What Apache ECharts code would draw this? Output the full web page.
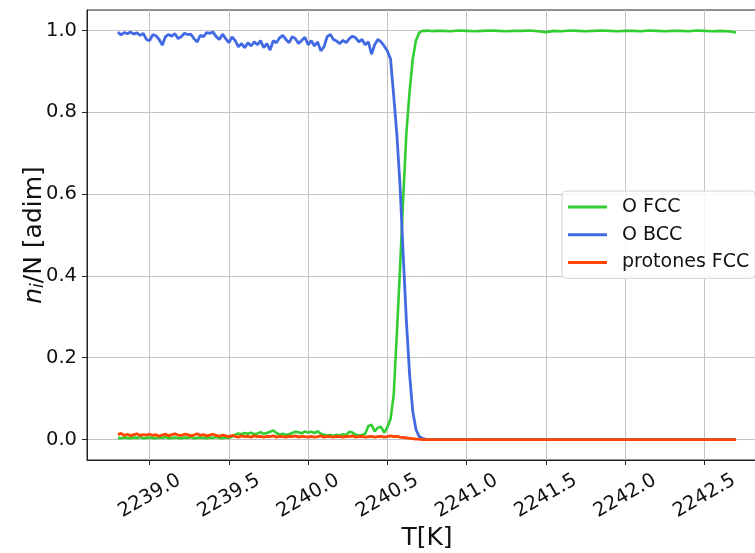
<!DOCTYPE html>
<html><head><meta charset="utf-8">
<script src="https://cdn.jsdelivr.net/npm/echarts@6/dist/echarts.min.js"></script>
<style>html,body{margin:0;padding:0;background:#fff}#c{width:755px;height:553px}</style>
</head><body><div id="c"></div>
<script>
// Temperature samples [K]
const T = [
 2238.80,2238.82,2238.84,2238.86,2238.88,2238.90,2238.92,2238.94,2238.96,2238.98,
 2239.00,2239.02,2239.04,2239.06,2239.08,2239.10,2239.12,2239.14,2239.16,2239.18,
 2239.20,2239.22,2239.24,2239.26,2239.28,2239.30,2239.32,2239.34,2239.36,2239.38,
 2239.40,2239.42,2239.44,2239.46,2239.48,2239.50,2239.52,2239.54,2239.56,2239.58,
 2239.60,2239.62,2239.64,2239.66,2239.68,2239.70,2239.72,2239.74,2239.76,2239.78,
 2239.80,2239.82,2239.84,2239.86,2239.88,2239.90,2239.92,2239.94,2239.96,2239.98,
 2240.00,2240.02,2240.04,2240.06,2240.08,2240.10,2240.12,2240.14,2240.16,2240.18,
 2240.20,2240.22,2240.24,2240.26,2240.28,2240.30,2240.32,2240.34,2240.36,2240.38,
 2240.40,2240.42,2240.44,2240.46,2240.48,2240.50,2240.52,2240.54,2240.56,2240.58,
 2240.60,2240.62,2240.64,2240.66,2240.68,2240.70,2240.72,2240.74,2240.76,2240.78,
 2240.80,
 2240.85,2240.90,2240.95,2241.00,2241.05,2241.10,2241.15,2241.20,2241.25,2241.30,
 2241.35,2241.40,2241.45,2241.50,2241.55,2241.60,2241.65,2241.70,2241.75,2241.80,
 2241.85,2241.90,2241.95,2242.00,2242.05,2242.10,2242.15,2242.20,2242.25,2242.30,
 2242.35,2242.40,2242.45,2242.50,2242.55,2242.60,2242.65,2242.70
];
// O FCC fraction
const oFCC = [
 0.004,0.003,0.005,0.004,0.003,0.005,0.004,0.006,0.003,0.004,
 0.005,0.004,0.003,0.005,0.004,0.006,0.003,0.004,0.005,0.004,
 0.003,0.005,0.004,0.006,0.003,0.004,0.005,0.004,0.003,0.005,
 0.004,0.006,0.004,0.003,0.005,0.004,0.007,0.012,0.015,0.013,
 0.016,0.014,0.017,0.013,0.015,0.018,0.014,0.016,0.019,0.022,
 0.016,0.012,0.014,0.011,0.013,0.016,0.019,0.018,0.015,0.020,
 0.017,0.019,0.016,0.020,0.014,0.012,0.010,0.011,0.009,0.012,
 0.010,0.013,0.011,0.019,0.017,0.012,0.010,0.011,0.014,0.033,
 0.036,0.020,0.029,0.031,0.017,0.030,0.050,0.110,0.260,0.420,
 0.590,0.750,0.850,0.930,0.975,0.994,0.999,0.999,1.000,0.998,
 0.999,
 0.999,0.998,1.000,0.999,0.998,0.999,1.000,0.999,0.998,0.999,
 0.999,1.000,0.998,0.996,0.999,0.998,1.000,0.999,0.998,0.999,
 1.000,0.999,0.998,0.999,0.999,0.998,1.000,0.999,0.998,0.999,
 0.999,0.998,1.000,0.999,0.998,0.999,0.998,0.995
];
// O BCC fraction
const oBCC = [
 0.996,0.989,0.995,0.992,0.996,0.991,0.994,0.988,0.993,0.978,
 0.975,0.990,0.987,0.978,0.964,0.985,0.990,0.986,0.992,0.980,
 0.985,0.993,0.990,0.991,0.980,0.972,0.988,0.985,0.995,0.993,
 0.996,0.985,0.978,0.991,0.980,0.970,0.984,0.975,0.960,0.968,
 0.958,0.970,0.962,0.972,0.965,0.975,0.958,0.968,0.952,0.975,
 0.970,0.982,0.988,0.978,0.970,0.985,0.980,0.968,0.976,0.983,
 0.965,0.975,0.962,0.972,0.950,0.960,0.985,0.990,0.978,0.974,
 0.968,0.976,0.970,0.980,0.986,0.982,0.972,0.978,0.965,0.972,
 0.942,0.965,0.978,0.972,0.962,0.950,0.930,0.840,0.745,0.620,
 0.450,0.290,0.160,0.070,0.025,0.008,0.003,0.001,0.000,0.000,
 0.000,
 0,0,0,0,0,0,0,0,0,0,
 0,0,0,0,0,0,0,0,0,0,
 0,0,0,0,0,0,0,0,0,0,
 0,0,0,0,0,0,0,0
];
// protones FCC fraction
const protFCC = [
 0.012,0.015,0.010,0.013,0.009,0.012,0.014,0.010,0.012,0.011,
 0.013,0.010,0.012,0.008,0.011,0.013,0.009,0.012,0.014,0.011,
 0.010,0.013,0.012,0.009,0.011,0.014,0.010,0.012,0.009,0.011,
 0.013,0.010,0.008,0.011,0.009,0.007,0.010,0.008,0.006,0.009,
 0.007,0.008,0.006,0.009,0.007,0.008,0.006,0.008,0.007,0.009,
 0.006,0.008,0.007,0.006,0.008,0.007,0.009,0.006,0.008,0.007,
 0.006,0.008,0.006,0.007,0.009,0.006,0.008,0.007,0.006,0.008,
 0.007,0.006,0.008,0.007,0.009,0.006,0.007,0.008,0.006,0.007,
 0.008,0.006,0.007,0.008,0.006,0.007,0.009,0.007,0.008,0.006,
 0.005,0.004,0.003,0.002,0.001,0.001,0.000,0.000,0.000,0.000,
 0.000,
 0,0,0,0,0,0,0,0,0,0,
 0,0,0,0,0,0,0,0,0,0,
 0,0,0,0,0,0,0,0,0,0,
 0,0,0,0,0,0,0,0
];
const seriesNames = ['O FCC','O BCC','protones FCC'];
const xTicks = [2239.0,2239.5,2240.0,2240.5,2241.0,2241.5,2242.0,2242.5];
const yTicks = [0.0,0.2,0.4,0.6,0.8,1.0];

const FONT = 'DejaVu Sans';
const INK = '#111';
const mk = vals => T.map((t,i)=>[t, vals[i]]);
const chart = echarts.init(document.getElementById('c'), null, {renderer:'canvas'});
chart.setOption({
  animation:false,
  backgroundColor:'#fff',
  grid:{left:87,top:10,width:680,height:450,show:true,borderColor:'#222',borderWidth:1,backgroundColor:'transparent',containLabel:false,outerBoundsMode:'none'},
  xAxis:{
    type:'value',min:2238.605,max:2242.895,
    name:'T[K]',nameLocation:'middle',nameGap:66,nameMoveOverlap:false,
    nameTextStyle:{fontFamily:FONT,fontSize:25,color:INK},
    axisLine:{show:true,onZero:false,lineStyle:{color:'#222',width:1}},
    axisTick:{show:true,inside:false,length:5,lineStyle:{color:'#222'},customValues:xTicks},
    axisLabel:{customValues:xTicks,rotate:30,align:'center',verticalAlign:'middle',margin:36,
      fontFamily:FONT,fontSize:19.5,color:INK,formatter:v=>v.toFixed(1),hideOverlap:false},
    splitLine:{show:true,lineStyle:{color:'#c4c4c4',width:1}}
  },
  yAxis:{
    type:'value',min:-0.05,max:1.05,
    name:'{it|n}{sub|i}{r|/N [adim]}',nameLocation:'middle',nameGap:40,nameRotate:90,nameMoveOverlap:false,
    nameTextStyle:{fontFamily:FONT,fontSize:25,color:INK,
      rich:{
        it:{fontFamily:FONT,fontSize:25,fontStyle:'italic',color:INK},
        sub:{fontFamily:FONT,fontSize:17,fontStyle:'italic',color:INK,verticalAlign:'bottom',lineHeight:16},
        r:{fontFamily:FONT,fontSize:25,color:INK}
      }},
    axisLine:{show:true,onZero:false,lineStyle:{color:'#222',width:1}},
    axisTick:{show:true,inside:false,length:5,lineStyle:{color:'#222'},customValues:yTicks},
    axisLabel:{customValues:yTicks,margin:10,fontFamily:FONT,fontSize:19.5,color:INK,formatter:v=>v.toFixed(1)},
    splitLine:{show:true,lineStyle:{color:'#c4c4c4',width:1}}
  },
  legend:{
    orient:'vertical',left:562,top:191,padding:[6,6,6,6],itemGap:7.7,itemWidth:39,itemHeight:3,icon:'rect',
    backgroundColor:'rgba(255,255,255,0.85)',borderColor:'#d4d4d4',borderWidth:1,borderRadius:4,
    textStyle:{fontFamily:FONT,fontSize:19,color:INK,padding:[0,0,0,10],lineHeight:20},
    data:seriesNames
  },
  series:[
    {name:seriesNames[0],type:'line',data:mk(oFCC),showSymbol:false,symbol:'none',color:'#32cd32',lineStyle:{width:2.6,color:'#32cd32'}},
    {name:seriesNames[1],type:'line',data:mk(oBCC),showSymbol:false,symbol:'none',color:'#4169e1',lineStyle:{width:2.8,color:'#4169e1'}},
    {name:seriesNames[2],type:'line',data:mk(protFCC),showSymbol:false,symbol:'none',color:'#ff4500',lineStyle:{width:2.8,color:'#ff4500'}}
  ]
});
</script>
</body></html>
